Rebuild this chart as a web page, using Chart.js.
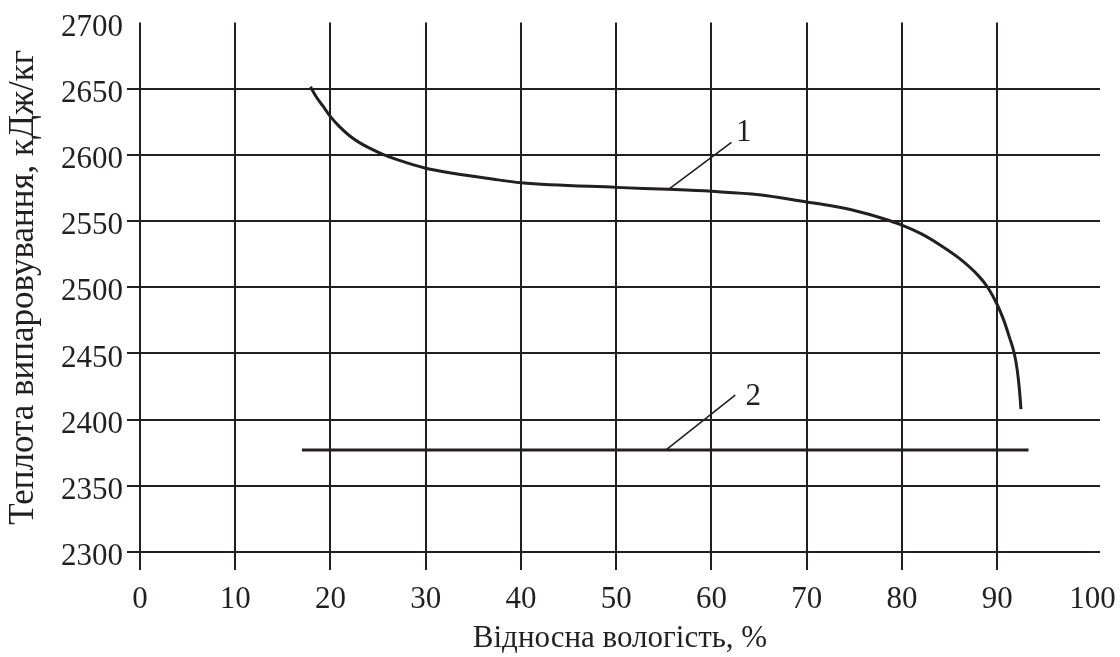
<!DOCTYPE html>
<html>
<head>
<meta charset="utf-8">
<script src="https://cdn.jsdelivr.net/npm/chart.js@4/dist/chart.umd.min.js"></script>
<style>
  html, body { margin: 0; padding: 0; background: #fff; }
  #wrap { width: 1120px; height: 657px; }
</style>
</head>
<body>
<div id="wrap"><canvas id="graf" width="1120" height="657"></canvas></div>
<script>
// Крива 1 - теплота випаровування залежно від вологості
const vologist1 = [17.9, 18.5, 19.2, 20, 21, 22, 23, 24, 25.5, 27, 30, 33, 36.8, 40, 50, 55.5, 60, 65, 70, 73, 75, 78, 80, 82, 84, 86, 88, 89, 90, 90.7, 91.3, 91.8, 92.1, 92.35, 92.5];
const teplota1 = [2651.5, 2644, 2637, 2629, 2621, 2614.5, 2609.5, 2605.5, 2600.5, 2596.5, 2590, 2586, 2582, 2579, 2575.5, 2574, 2572.5, 2570, 2564.5, 2561, 2558, 2552, 2547, 2540.5, 2532, 2522, 2509, 2500, 2487, 2475, 2462, 2450, 2438, 2422, 2408];

// Лінія 2 - стала теплота
const vologist2 = [17, 93.3];
const teplota2 = [2377, 2377];

const xTicks = [0, 10, 20, 30, 40, 50, 60, 70, 80, 90, 100];
const yTicks = [2300, 2350, 2400, 2450, 2500, 2550, 2600, 2650, 2700];

// позначки кривих (виноски)
const vynosky = [
    { text: '1', from: [55.5, 2574], to: [62.1, 2609.5], at: [63.4, 2617] },
    { text: '2', from: [55.2, 2377], to: [62.5, 2418.5], at: [64.4, 2417] }
];

const ink = '#231f20';
const serif = '"Liberation Serif", "Times New Roman", serif';

const vynoskyPlugin = {
    id: 'vynosky',
    afterDatasetsDraw(chart) {
        const { ctx, scales: { x, y } } = chart;
        ctx.save();
        ctx.strokeStyle = ink;
        ctx.fillStyle = ink;
        ctx.lineWidth = 1.6;
        ctx.font = '31px ' + serif;
        ctx.textAlign = 'center';
        ctx.textBaseline = 'middle';
        vynosky.forEach(v => {
            ctx.beginPath();
            ctx.moveTo(x.getPixelForValue(v.from[0]), y.getPixelForValue(v.from[1]));
            ctx.lineTo(x.getPixelForValue(v.to[0]), y.getPixelForValue(v.to[1]));
            ctx.stroke();
            ctx.fillText(v.text, x.getPixelForValue(v.at[0]), y.getPixelForValue(v.at[1]));
        });
        ctx.restore();
    }
};

const ctx = document.getElementById('graf').getContext('2d');
const graf = new Chart(ctx, {
    type: 'line',
    data: {
        datasets: [
            {
                label: '1',
                data: vologist1.map((v, i) => ({ x: v, y: teplota1[i] })),
                borderColor: ink,
                borderWidth: 3,
                pointRadius: 0,
                cubicInterpolationMode: 'monotone',
                fill: false
            },
            {
                label: '2',
                data: vologist2.map((v, i) => ({ x: v, y: teplota2[i] })),
                borderColor: ink,
                borderWidth: 3,
                pointRadius: 0,
                fill: false
            }
        ]
    },
    options: {
        responsive: false,
        devicePixelRatio: 1,
        animation: false,
        layout: { padding: { top: 22, right: 20, bottom: 0, left: 0 } },
        plugins: {
            legend: { display: false },
            tooltip: { enabled: false }
        },
        scales: {
            x: {
                type: 'linear',
                min: 0,
                max: 100.8,
                afterBuildTicks: s => { s.ticks = xTicks.map(v => ({ value: v })); },
                afterFit: s => {
                    s.height = 105;
                    // підпис "100" може виходити за край, не резервуємо під нього місце
                    s.paddingLeft = 0;
                    s.paddingRight = 0;
                },
                border: { display: false },
                grid: {
                    color: c => (c.tick && c.tick.value === 100 ? 'rgba(0,0,0,0)' : ink),
                    lineWidth: 2,
                    tickLength: 18
                },
                ticks: {
                    color: ink,
                    font: { family: serif, size: 31 },
                    padding: 11,
                    maxRotation: 0,
                    autoSkip: false,
                    callback: v => String(v)
                },
                title: {
                    display: true,
                    text: 'Відносна вологість, %',
                    color: ink,
                    font: { family: serif, size: 31 },
                    padding: { top: 0, bottom: 0 }
                }
            },
            y: {
                min: 2300,
                max: 2700,
                afterBuildTicks: s => { s.ticks = yTicks.map(v => ({ value: v })); },
                afterFit: s => { s.width = 140; },
                border: { display: false },
                grid: {
                    color: c => (c.tick && c.tick.value === 2700 ? 'rgba(0,0,0,0)' : ink),
                    lineWidth: 2,
                    tickLength: 13
                },
                ticks: {
                    color: ink,
                    font: { family: serif, size: 31 },
                    padding: 4,
                    labelOffset: 5,
                    autoSkip: false,
                    callback: v => String(v)
                },
                title: {
                    display: true,
                    text: 'Теплота випаровування, кДж/кг',
                    color: ink,
                    font: { family: serif, size: 35 },
                    padding: { top: 3, bottom: 0 }
                }
            }
        }
    },
    plugins: [vynoskyPlugin]
});
</script>
</body>
</html>
